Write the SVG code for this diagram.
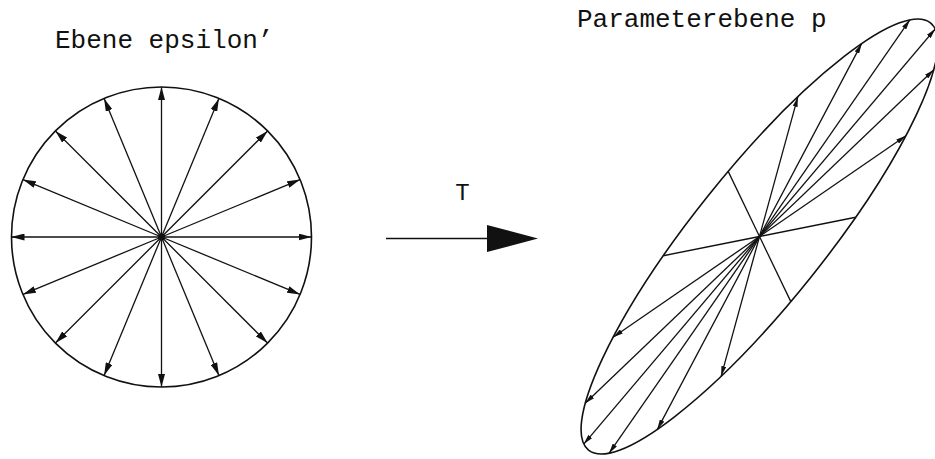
<svg xmlns="http://www.w3.org/2000/svg" width="935" height="459" viewBox="0 0 935 459">
<style>
.lbl{font-family:"Liberation Mono","Courier New",monospace;fill:#111}
.ray{stroke:#111;stroke-width:1.3;fill:none}
.big{marker-end:url(#ah)}
.sm{marker-end:url(#ahs)}
.outline{stroke:#111;stroke-width:1.6;fill:none}
</style>
<defs>
<marker id="ah" viewBox="0 0 13 7" refX="13" refY="3.5" markerWidth="13" markerHeight="7" markerUnits="userSpaceOnUse" orient="auto"><path d="M0,0 L13,3.5 L0,7 z" fill="#111"/></marker>
<marker id="ahs" viewBox="0 0 10 5" refX="10" refY="2.5" markerWidth="10" markerHeight="5" markerUnits="userSpaceOnUse" orient="auto"><path d="M0,0 L10,2.5 L0,5 z" fill="#111"/></marker>
</defs>
<rect width="935" height="459" fill="#fff"/>

<g id="circle-plane">
<text class="lbl" x="55" y="48" font-size="26">Ebene epsilon’</text>
<circle class="outline" cx="161.5" cy="237" r="150"/>
<g class="ray big">
<line x1="161.5" y1="237" x2="311.5" y2="237"/>
<line x1="161.5" y1="237" x2="300.08" y2="294.4"/>
<line x1="161.5" y1="237" x2="267.57" y2="343.07"/>
<line x1="161.5" y1="237" x2="218.9" y2="375.58"/>
<line x1="161.5" y1="237" x2="161.5" y2="387"/>
<line x1="161.5" y1="237" x2="104.1" y2="375.58"/>
<line x1="161.5" y1="237" x2="55.43" y2="343.07"/>
<line x1="161.5" y1="237" x2="22.92" y2="294.4"/>
<line x1="161.5" y1="237" x2="11.5" y2="237"/>
<line x1="161.5" y1="237" x2="22.92" y2="179.6"/>
<line x1="161.5" y1="237" x2="55.43" y2="130.93"/>
<line x1="161.5" y1="237" x2="104.1" y2="98.42"/>
<line x1="161.5" y1="237" x2="161.5" y2="87"/>
<line x1="161.5" y1="237" x2="218.9" y2="98.42"/>
<line x1="161.5" y1="237" x2="267.57" y2="130.93"/>
<line x1="161.5" y1="237" x2="300.08" y2="179.6"/>
</g>
<circle cx="161.5" cy="237" r="3.5" fill="#111"/>
</g>

<g id="transform-arrow">
<text class="lbl" x="462.5" y="200" font-size="24" text-anchor="middle">T</text>
<line x1="386" y1="238.5" x2="490" y2="238.5" stroke="#111" stroke-width="1.6"/>
<path d="M487,225 L538,238.5 L487,252 z" fill="#111"/>
</g>

<g id="parameter-plane">
<text class="lbl" x="577" y="27" font-size="26">Parameterebene p</text>
<ellipse class="outline" cx="759.5" cy="236.5" rx="273.6" ry="65.55" transform="rotate(-51.33 759.5 236.5)"/>
<g class="ray">
<line x1="759.5" y1="236.5" x2="728.19" y2="171.35"/>
<line x1="759.5" y1="236.5" x2="855.68" y2="217.26"/>
<line x1="759.5" y1="236.5" x2="790.81" y2="301.65"/>
<line x1="759.5" y1="236.5" x2="663.32" y2="255.74"/>
</g>
<g class="ray sm">
<line x1="759.5" y1="236.5" x2="797.82" y2="96.88"/>
<line x1="759.5" y1="236.5" x2="861.63" y2="43.66"/>
<line x1="759.5" y1="236.5" x2="909.88" y2="19.81"/>
<line x1="759.5" y1="236.5" x2="935.24" y2="28.94"/>
<line x1="759.5" y1="236.5" x2="933.84" y2="69.67"/>
<line x1="759.5" y1="236.5" x2="905.91" y2="135.8"/>
<line x1="759.5" y1="236.5" x2="721.18" y2="376.12"/>
<line x1="759.5" y1="236.5" x2="657.37" y2="429.34"/>
<line x1="759.5" y1="236.5" x2="609.12" y2="453.19"/>
<line x1="759.5" y1="236.5" x2="583.76" y2="444.06"/>
<line x1="759.5" y1="236.5" x2="585.16" y2="403.33"/>
<line x1="759.5" y1="236.5" x2="613.09" y2="337.2"/>
</g>
</g>
</svg>
